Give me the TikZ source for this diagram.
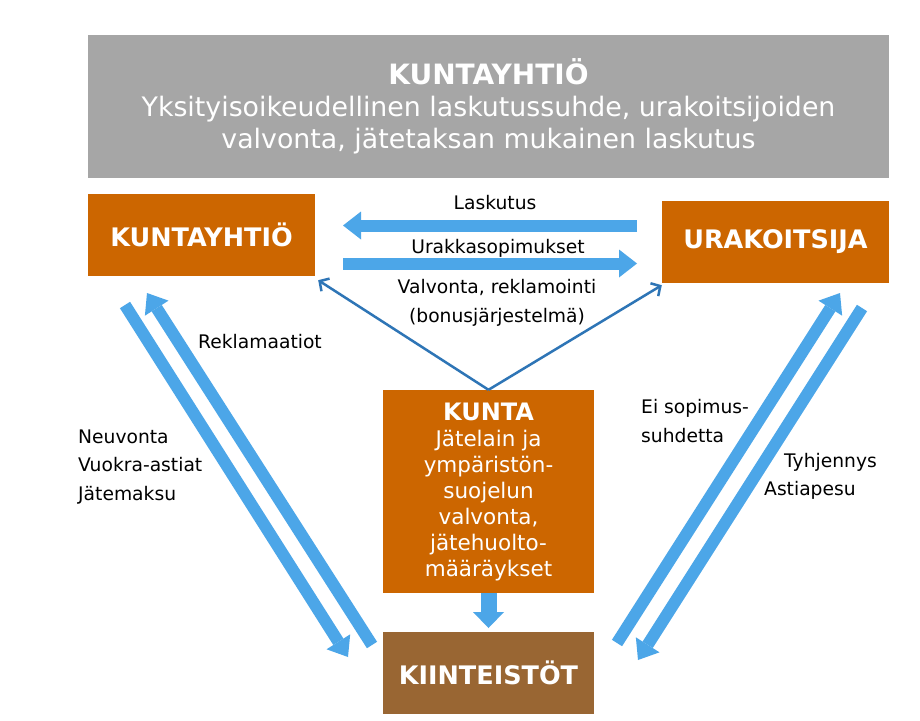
\documentclass[tikz,border=0pt]{standalone}
\usepackage{fontspec}
\setmainfont{DejaVu Sans}
\usetikzlibrary{arrows.meta}
\definecolor{grayfill}{RGB}{166,166,166}
\definecolor{orangefill}{RGB}{204,102,0}
\definecolor{brownfill}{RGB}{153,102,51}
\definecolor{lightblue}{RGB}{76,166,232}
\definecolor{darkblue}{RGB}{46,117,182}
\begin{document}
\begin{tikzpicture}[x=1pt,y=-1pt,
  box/.style={rectangle, inner sep=0pt, text=white, align=center},
  orangebox/.style={box, fill=orangefill, minimum width=227pt, minimum height=82pt, font=\bfseries\fontsize{25.5}{30}\selectfont},
  lbl/.style={inner sep=0pt, font=\fontsize{18.7}{28.5}\selectfont, align=left},
  blockarrow/.style={draw=lightblue, line width=12pt, -{Triangle[length=18pt 0, width=28pt 0, line width=0pt 0]}},
  downarrow/.style={draw=lightblue, line width=16pt, -{Triangle[length=16pt 0, width=31pt 0, line width=0pt 0]}},
  thinarrow/.style={draw=darkblue, line width=2.5pt, -{Straight Barb[length=7pt 0, width=15pt 0]}}]
\useasboundingbox (0,0) rectangle (920,720);
\fill[white] (0,0) rectangle (920,720);

% boxes
\node[box, fill=grayfill, minimum width=801pt, minimum height=143pt,
      font=\fontsize{26.8}{32}\selectfont] (top) at (488.5,106.5)
  {{\bfseries\fontsize{28}{32}\selectfont KUNTAYHTIÖ}\\Yksityisoikeudellinen laskutussuhde, urakoitsijoiden\\valvonta, jätetaksan mukainen laskutus};
\node[orangebox] (kyh) at (201.5,235) {KUNTAYHTIÖ};
\node[orangebox] (ura) at (775.5,242) {URAKOITSIJA};
\node[box, fill=orangefill, minimum width=211pt, minimum height=203pt,
      font=\fontsize{21.5}{26}\selectfont] (kunta) at (488.5,491.5)
  {{\bfseries\fontsize{24}{26}\selectfont KUNTA}\\Jätelain ja\\ympäristön-\\suojelun\\valvonta,\\jätehuolto-\\määräykset};
\node[box, fill=brownfill, minimum width=211pt, minimum height=82pt,
      font=\bfseries\fontsize{25.5}{30}\selectfont] (kiint) at (488.5,673) {KIINTEISTÖT};

% arrow end points
\coordinate (laskA) at (637,225.5);
\coordinate (laskB) at (343,225.5);
\coordinate (uraA) at (343,263.5);
\coordinate (uraB) at (637,263.5);
\coordinate (l1a) at (125,305);
\coordinate (l1b) at (348,657);
\coordinate (l2a) at (372,645);
\coordinate (l2b) at (147,293);
\coordinate (r1a) at (617,643);
\coordinate (r1b) at (840,293);
\coordinate (r2a) at (862,308);
\coordinate (r2b) at (638,660);
\coordinate (kdown) at (488.5,628);

% connectors
\draw[blockarrow] (laskA) -- (laskB);
\draw[blockarrow] (uraA) -- (uraB);
\draw[blockarrow] (l1a) -- (l1b);
\draw[blockarrow] (l2a) -- (l2b);
\draw[blockarrow] (r1a) -- (r1b);
\draw[blockarrow] (r2a) -- (r2b);
\draw[downarrow] (kunta.south) -- (kdown);
\draw[thinarrow] (kunta.north) -- ([shift={(3,4)}]kyh.south east);
\draw[thinarrow] (kunta.north) -- ([shift={(0,2)}]ura.south west);

% labels
\node[lbl, anchor=base] (tlask) at (495,209) {Laskutus};
\node[lbl, anchor=base] (turak) at (498,253) {Urakkasopimukset};
\node[lbl, anchor=north, align=center, font=\fontsize{18.7}{29}\selectfont] (tvalv) at (497,279) {Valvonta, reklamointi\\(bonusjärjestelmä)};
\node[lbl, anchor=base west] (trekl) at (198,348) {Reklamaatiot};
\node[lbl, anchor=north west] (tneuv) at (78,429.5) {Neuvonta\\Vuokra-astiat\\Jätemaksu};
\node[lbl, anchor=north west, font=\fontsize{18.7}{29.5}\selectfont] (tei) at (641,399) {Ei sopimus-\\suhdetta};
\node[lbl, anchor=base west] (ttyh) at (784,467) {Tyhjennys};
\node[lbl, anchor=base west] (tast) at (764,495) {Astiapesu};
\end{tikzpicture}
\end{document}
